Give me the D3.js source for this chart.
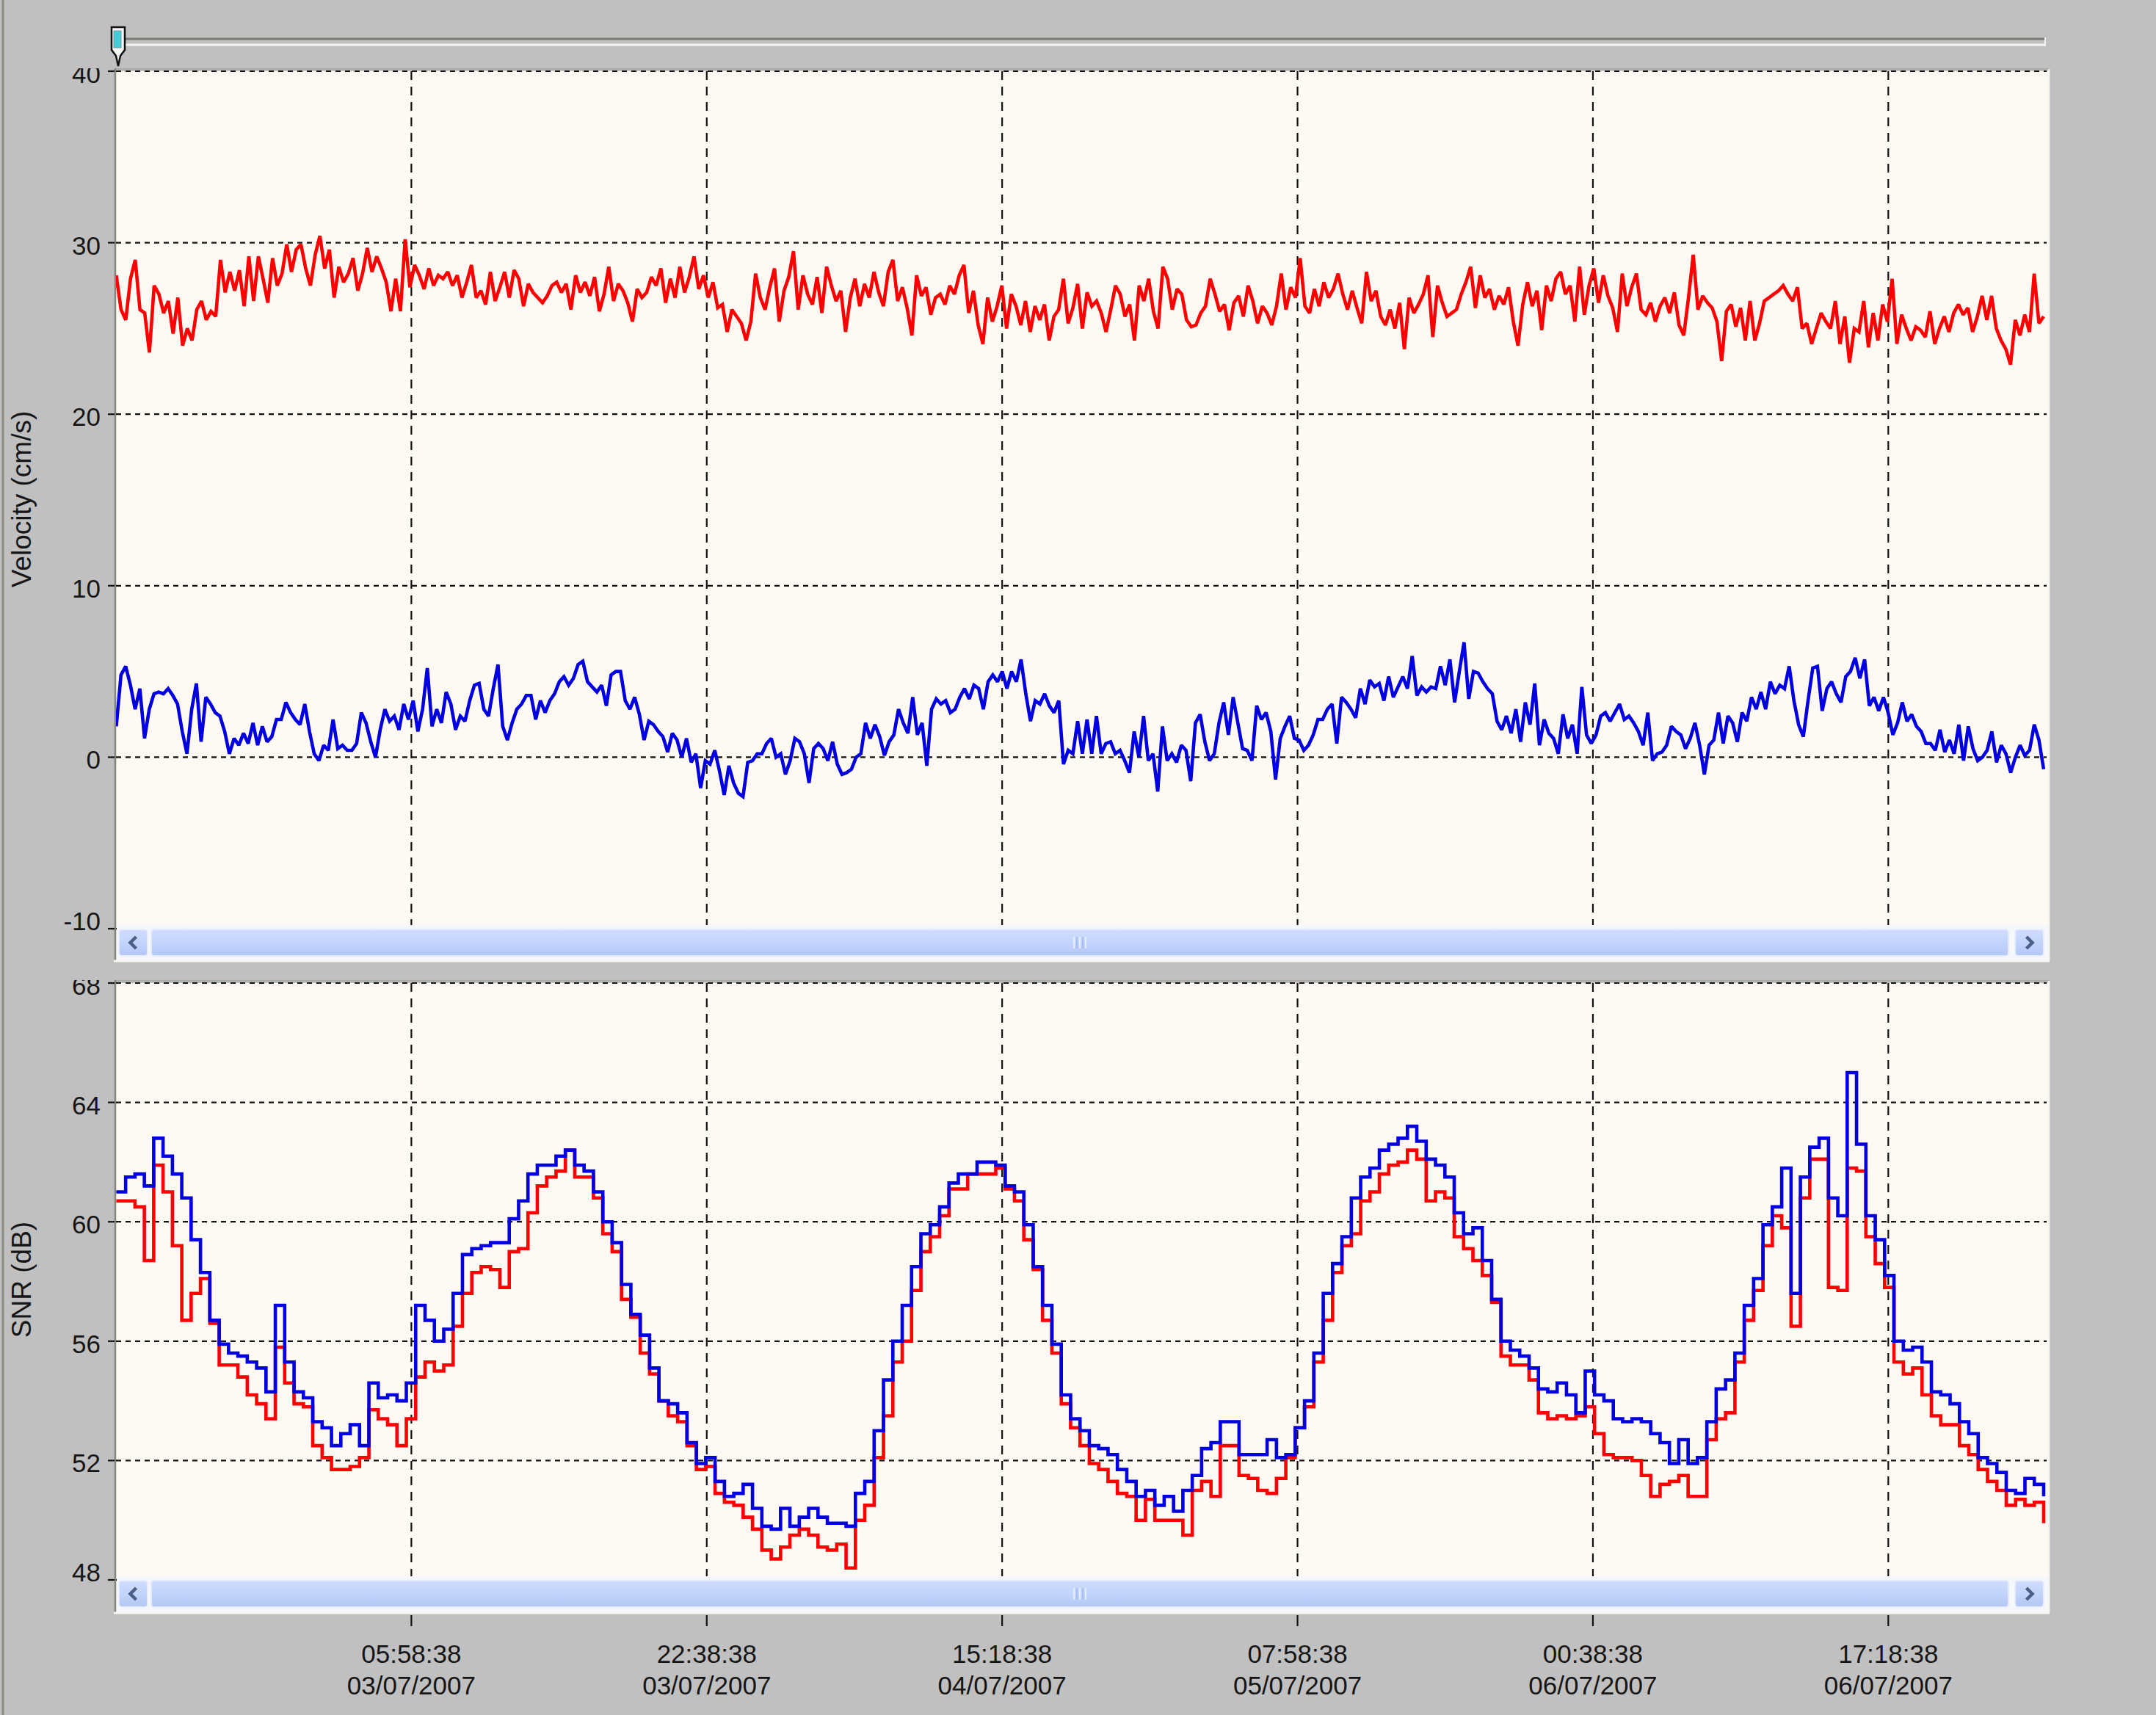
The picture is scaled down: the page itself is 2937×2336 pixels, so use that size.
<!DOCTYPE html>
<html>
<head>
<meta charset="utf-8">
<script src="https://cdn.jsdelivr.net/npm/d3@7"></script>
<style>
  html, body { margin: 0; padding: 0; background: #c0c0c0; overflow: hidden; }
  svg text { font-family: "Liberation Sans", Arial, sans-serif; fill: #161616; }
</style>
</head>
<body>
<svg id="chart" width="2937" height="2336"></svg>
<script>
// ---- time frame of the record ----
const recordStart = "2007-07-02T13:18:38";
const recordEnd   = "2007-07-07T02:14:38";
const seriesStart = "2007-07-02T13:19:38";
const seriesEnd   = "2007-07-07T02:04:38";
const timeTicks = [
  "2007-07-03T05:58:38", "2007-07-03T22:38:38", "2007-07-04T15:18:38",
  "2007-07-05T07:58:38", "2007-07-06T00:38:38", "2007-07-06T17:18:38"
];
const velocityTicks = [40, 30, 20, 10, 0, -10];
const snrTicks = [68, 64, 60, 56, 52, 48];
const velocityTitle = "Velocity (cm/s)";
const snrTitle = "SNR (dB)";

// ---- velocity, beam 1 (red), cm/s ----
const velocityRed = [
28.1,26.1,25.5,27.9,29.0,26.1,25.9,23.6,27.5,27.0,
25.9,26.6,24.7,26.8,24.0,25.0,24.3,26.1,26.6,25.5,
26.0,25.7,29.0,27.1,28.3,27.2,28.4,26.3,29.2,26.6,
29.2,27.9,26.5,29.1,27.5,28.2,29.9,28.3,29.6,29.9,
28.5,27.5,29.3,30.4,28.5,29.6,26.8,28.6,27.7,28.2,
29.1,27.2,28.2,29.7,28.3,29.2,28.5,27.7,26.0,27.9,
26.0,30.2,27.4,28.7,28.1,27.3,28.5,27.5,28.1,27.9,
28.3,27.5,28.1,26.8,27.7,28.7,26.8,27.2,26.4,28.3,
26.6,27.4,28.3,26.8,28.4,27.9,26.3,27.6,27.1,26.8,
26.5,26.9,27.5,27.7,27.1,27.6,26.1,28.1,27.1,27.7,
26.9,28.0,26.0,27.0,28.6,26.6,27.6,27.2,26.5,25.4,
27.3,26.8,27.1,28.0,27.5,28.5,26.5,27.9,26.8,28.6,
27.1,28.0,29.2,27.3,28.1,26.8,27.7,26.2,26.4,24.8,
26.1,25.7,25.3,24.3,25.4,28.2,26.8,26.1,27.4,28.5,
25.4,27.2,28.0,29.5,26.1,28.1,27.0,26.4,28.0,25.9,
28.6,27.5,26.6,27.2,24.8,26.8,27.9,26.3,27.6,26.8,
28.3,27.1,26.3,28.3,29.0,26.6,27.4,26.2,24.6,28.1,
26.9,27.4,25.8,26.8,27.0,26.4,27.5,27.0,28.1,28.7,
25.9,27.2,25.2,24.1,26.8,25.4,26.3,27.5,25.0,27.0,
26.3,25.2,26.6,24.8,26.3,25.5,26.4,24.3,25.7,26.1,
27.9,25.3,26.2,27.6,25.0,
27.1,26.3,26.6,25.9,24.8,26.1,27.5,27.0,25.7,26.4,
24.3,27.5,26.6,27.9,26.0,25.0,28.6,27.9,26.1,27.3,
27.0,25.5,25.1,25.2,25.9,26.3,27.9,27.0,26.0,26.4,
24.9,26.5,26.9,25.7,27.5,26.6,25.3,26.3,25.9,25.2,
26.3,28.2,26.1,27.4,26.8,29.1,26.3,25.9,27.3,26.3,
27.7,26.8,27.3,28.2,27.0,26.1,27.2,26.2,25.3,28.3,
26.6,27.2,25.7,25.2,26.1,25.0,26.5,23.8,26.8,25.9,
26.4,27.0,28.1,24.5,27.5,26.5,25.7,25.9,26.1,27.0,
27.7,28.6,26.2,28.1,26.8,27.3,26.1,26.9,26.4,27.4,
25.4,24.0,26.4,27.7,26.3,27.2,24.9,27.5,26.6,27.9,
28.3,27.0,27.5,25.4,28.6,25.8,27.5,28.5,26.5,28.1,
26.9,26.2,24.8,28.2,26.3,27.4,28.2,26.1,25.8,26.5,
25.4,26.3,26.8,25.9,27.1,25.2,24.6,26.8,29.3,26.1,
26.9,26.5,26.2,25.4,23.1,26.0,26.4,25.1,26.2,24.3,
26.6,24.3,25.3,26.6,26.8,27.0,27.2,27.5,27.0,26.6,
27.4,25.0,25.3,24.1,25.0,25.9,25.4,25.0,26.6,24.1,
25.7,23.0,25.0,24.8,26.6,23.9,25.9,24.3,26.4,25.4,
27.9,24.1,25.8,25.0,24.3,25.1,24.9,24.5,26.0,24.1,
25.0,25.7,24.8,25.9,26.4,25.8,26.2,24.8,25.7,26.9,
25.5,26.9,25.0,24.3,23.8,22.9,25.5,24.6,25.8,24.8,
28.2,25.3,25.7
];

// ---- velocity, beam 2 (blue), cm/s ----
const velocityBlue = [
1.8,4.8,5.3,4.2,2.8,4.0,1.1,2.8,3.7,3.8,
3.7,4.0,3.6,3.1,1.5,0.2,2.8,4.3,0.9,3.5,
3.1,2.6,2.4,1.5,0.2,1.1,0.7,1.4,0.8,2.0,
0.7,1.8,0.9,1.2,2.2,2.2,3.2,2.6,2.2,1.9,
3.1,1.5,0.2,-0.2,0.7,0.4,2.2,0.5,0.7,0.4,
0.4,0.8,2.6,2.0,0.9,0.0,1.6,2.8,2.1,2.4,
1.6,3.1,2.2,3.3,1.5,2.8,5.2,1.8,2.8,2.0,
3.8,3.1,1.6,2.4,2.1,3.3,4.2,4.3,2.8,2.4,
4.0,5.4,1.8,1.0,2.0,2.8,3.1,3.6,3.6,2.2,
3.3,2.6,3.3,3.7,4.4,4.7,4.2,4.6,5.4,5.6,
4.4,4.1,3.8,4.2,3.0,4.8,5.0,5.0,3.3,2.8,
3.5,2.5,1.0,2.1,1.9,1.5,1.2,0.3,1.4,1.0,
0.0,1.1,-0.3,0.2,-1.8,-0.2,-0.4,0.4,-0.8,-2.2,
-0.5,-1.5,-2.1,-2.3,-0.3,-0.2,0.2,0.2,0.8,1.1,
0.0,0.2,-1.0,-0.2,1.1,0.9,0.2,-1.5,0.5,0.8,
0.5,-0.2,0.9,-0.4,-1.0,-0.9,-0.7,0.0,0.2,2.0,
1.1,1.9,1.2,0.1,0.9,1.3,2.8,2.0,1.4,3.5,
1.3,2.0,-0.5,2.8,3.4,3.1,3.3,2.6,2.8,3.5,
4.0,3.4,4.2,4.0,2.8,4.4,4.8,4.4,5.0,4.0,
5.0,4.4,5.7,3.7,2.1,3.3,3.1,3.7,3.0,2.6,
3.3,-0.4,0.4,0.2,2.1,0.2,2.2,
0.2,2.4,0.2,0.8,0.9,0.2,0.4,-0.2,-0.9,1.5,
0.0,2.4,-0.2,0.2,-2.0,1.8,-0.2,0.2,-0.3,0.7,
0.4,-1.4,2.0,2.5,0.9,-0.2,0.2,2.0,3.2,1.3,
3.5,2.0,0.5,0.4,-0.2,3.0,2.2,2.6,1.5,-1.3,
1.1,1.8,2.4,1.1,1.0,0.4,0.7,1.3,2.2,2.2,
2.8,3.1,0.8,3.5,3.2,2.8,2.3,4.0,3.1,4.5,
4.1,4.3,3.3,4.7,3.5,4.1,4.7,4.0,5.9,3.6,
4.1,3.8,4.1,4.0,5.3,4.2,5.7,3.2,5.0,6.7,
3.4,5.0,4.9,4.4,4.0,3.7,2.1,1.6,2.4,1.4,
2.8,0.9,3.2,1.9,4.3,0.7,2.2,1.4,1.1,0.2,
2.5,1.1,1.9,0.2,4.1,1.3,0.8,1.3,2.4,2.6,
2.1,2.6,3.1,2.2,2.4,2.0,1.5,0.7,2.6,-0.2,
0.2,0.3,0.7,1.8,1.5,1.3,0.5,1.1,2.0,0.7,
-1.0,0.7,1.0,2.6,0.8,2.4,2.0,0.9,2.6,2.1,
3.5,2.8,3.8,2.8,4.4,3.7,4.2,4.0,5.3,3.3,
1.9,1.2,3.3,5.2,5.3,2.7,4.0,4.4,3.7,3.2,
4.7,5.0,5.8,4.6,5.7,3.0,3.5,2.7,3.5,2.6,
1.3,2.0,3.2,2.1,2.5,1.8,1.5,0.8,0.8,0.4,
1.6,0.3,1.0,0.2,1.9,-0.2,1.8,0.5,-0.2,0.0,
0.4,1.5,-0.3,0.7,0.2,-0.9,0.0,0.7,0.1,0.4,
1.9,1.0,-0.7
];

// ---- signal to noise ratio, beam 1 (red), dB ----
const snrRed = [
60.7,60.7,60.5,58.7,61.9,61.0,59.2,56.7,57.6,58.1,
56.6,55.2,55.2,54.8,54.2,53.9,53.4,55.8,54.6,53.9,
53.8,52.5,52.1,51.7,51.7,51.8,52.1,53.7,53.4,53.2,
52.5,53.4,54.8,55.3,55.0,55.2,56.5,57.6,58.3,58.5,
58.4,57.8,59.0,59.1,60.3,61.2,61.5,61.7,62.4,61.5,
61.5,60.8,59.6,59.0,57.4,56.8,55.6,54.9,54.0,53.5,
53.3,52.5,51.7,51.8,50.9,50.6,50.5,50.1,49.7,49.0,
48.7,49.1,49.5,49.7,49.5,49.1,49.0,49.2,48.4,50.0,
50.5,52.1,53.5,55.3,56.0,57.7,59.0,59.5,60.2,61.1,
61.1,61.6,61.6,61.6,61.8,61.1,60.7,59.4,58.4,56.7,
55.6,53.9,53.1,52.5,
51.9,51.7,51.3,50.9,50.8,50.0,50.7,50.0,50.0,50.0,
49.5,51.0,51.3,50.8,52.5,52.5,51.5,51.4,51.0,50.9,
51.4,52.1,53.1,53.8,55.3,56.7,58.3,59.2,59.6,60.7,
61.0,61.6,61.9,62.0,62.4,62.1,60.7,61.0,60.8,59.5,
59.1,58.7,58.2,57.3,55.5,55.2,55.2,54.7,53.6,53.4,
53.5,53.4,53.5,53.8,52.9,52.2,52.1,52.1,52.0,51.5,
50.8,51.2,51.3,51.5,50.8,50.8,52.7,53.4,53.6,55.3,
56.7,57.7,59.2,60.2,59.8,56.5,60.8,62.1,62.1,57.8,
57.7,61.8,61.7,59.5,58.6,57.8,55.3,54.9,55.1,54.2,
53.5,53.2,53.2,52.5,52.2,51.7,51.3,51.0,50.5,50.7,
50.5,50.6,49.9
];

// ---- signal to noise ratio, beam 2 (blue), dB ----
const snrBlue = [
61.0,61.5,61.6,61.2,62.8,62.2,61.6,60.8,59.4,58.3,
56.7,55.9,55.6,55.5,55.3,55.1,54.3,57.2,55.3,54.3,
54.1,53.3,53.1,52.5,52.9,53.2,52.5,54.6,54.1,54.2,
54.0,54.6,57.2,56.7,56.0,56.4,57.6,58.9,59.1,59.2,
59.3,59.3,60.1,60.7,61.6,61.9,61.9,62.2,62.4,61.9,
61.7,61.0,60.0,59.3,57.9,56.9,56.2,55.1,54.0,53.9,
53.6,52.6,51.9,52.1,51.3,50.8,50.9,51.2,50.4,49.8,
49.7,50.4,49.8,50.1,50.4,50.1,49.9,49.9,49.8,50.9,
51.3,53.0,54.7,56.0,57.2,58.5,59.6,59.9,60.5,61.3,
61.6,61.6,62.0,62.0,61.9,61.2,61.0,59.9,58.5,57.2,
55.9,54.2,53.4,53.0,
52.5,52.4,52.2,51.7,51.3,50.8,51.0,50.5,50.8,50.3,
51.0,51.5,52.4,52.6,53.3,53.3,52.2,52.2,52.2,52.7,
52.1,52.2,53.1,54.0,55.6,57.6,58.6,59.5,60.8,61.5,
61.8,62.4,62.6,62.8,63.2,62.7,62.1,61.9,61.5,60.3,
59.6,59.8,58.7,57.4,56.0,55.7,55.5,55.1,54.4,54.3,
54.6,54.2,53.6,55.0,54.2,54.0,53.4,53.3,53.4,53.3,
52.9,52.6,51.9,52.7,51.9,52.1,53.3,54.4,54.7,55.6,
57.2,58.1,59.9,60.5,61.8,57.6,61.5,62.5,62.8,60.8,
60.2,65.0,62.6,60.2,59.4,58.2,56.0,55.7,55.8,55.3,
54.3,54.2,53.9,53.3,52.9,52.1,51.9,51.6,51.0,50.9,
51.4,51.2,50.8
];

// ---- layout ----
const W = 2937, H = 2336;
const plotLeft = 158, plotRight = 2788;
const topPanel = { top: 97, bottom: 1265, frameBottom: 1308 };
const botPanel = { top: 1339, bottom: 2152, frameBottom: 2196 };
const RED = "#ff0000", BLUE = "#0000e0";

const parse = d3.timeParse("%Y-%m-%dT%H:%M:%S");
const fmtTime = d3.timeFormat("%H:%M:%S");
const fmtDate = d3.timeFormat("%d/%m/%Y");

const x = d3.scaleTime()
  .domain([parse(recordStart), parse(recordEnd)])
  .range([plotLeft, plotRight]);
const yVel = d3.scaleLinear().domain([-10, 40]).range([topPanel.bottom, topPanel.top]);
const ySnr = d3.scaleLinear().domain([48, 68]).range([botPanel.bottom, botPanel.top]);
const tickDates = timeTicks.map(parse);

// samples are evenly spaced over the deployment
function withTimes(values) {
  const t = d3.scaleLinear().domain([0, values.length - 1])
    .range([+parse(seriesStart), +parse(seriesEnd)]);
  return values.map((v, i) => ({ t: new Date(t(i)), v }));
}

const svg = d3.select("#chart");
const defs = svg.append("defs");

// scrollbar gradient
const gBar = defs.append("linearGradient").attr("id", "barFill")
  .attr("x1", 0).attr("y1", 0).attr("x2", 0).attr("y2", 1);
gBar.append("stop").attr("offset", "0%").attr("stop-color", "#d0dcfd");
gBar.append("stop").attr("offset", "50%").attr("stop-color", "#c3d4fc");
gBar.append("stop").attr("offset", "100%").attr("stop-color", "#b3c7f4");

// window frame
svg.append("rect").attr("width", W).attr("height", H).attr("fill", "#c0c0c0");
svg.append("line").attr("x1", 4).attr("x2", 4).attr("y1", 0).attr("y2", H)
  .attr("stroke", "#8c8c82").attr("stroke-width", 3);

// time slider above the panels
const slider = svg.append("g");
slider.append("line").attr("x1", plotLeft + 10).attr("x2", 2786).attr("y1", 53).attr("y2", 53)
  .attr("stroke", "#7b7b73").attr("stroke-width", 3);
slider.append("line").attr("x1", plotLeft + 10).attr("x2", 2786).attr("y1", 61).attr("y2", 61)
  .attr("stroke", "#f4f4f4").attr("stroke-width", 3);
slider.append("line").attr("x1", 2786).attr("x2", 2786).attr("y1", 51).attr("y2", 63)
  .attr("stroke", "#f4f4f4").attr("stroke-width", 2);
slider.append("path")
  .attr("d", "M152,37 L170,37 L170,68 L164,76 L161,90 L158,76 L152,68 Z")
  .attr("fill", "#f7f7f7").attr("stroke", "#111").attr("stroke-width", 2.5);
slider.append("rect").attr("x", 155).attr("y", 42).attr("width", 10).attr("height", 23)
  .attr("fill", "#48ccd6").attr("stroke", "#7a9aa0").attr("stroke-width", 1);

function drawPanel(panel, y, ticks, title, titleY, series, curve) {
  const g = svg.append("g");
  // plot background and frame
  g.append("rect").attr("x", plotLeft).attr("y", panel.top)
    .attr("width", plotRight - plotLeft + 3).attr("height", panel.frameBottom - panel.top)
    .attr("fill", "#fff9f4");
  g.append("line").attr("x1", plotLeft - 2).attr("x2", plotRight + 4)
    .attr("y1", panel.top - 3).attr("y2", panel.top - 3)
    .attr("stroke", "#ababa3").attr("stroke-width", 2);
  g.append("line").attr("x1", plotLeft - 1).attr("x2", plotLeft - 1)
    .attr("y1", panel.top - 4).attr("y2", panel.frameBottom)
    .attr("stroke", "#84847b").attr("stroke-width", 2.5);
  g.append("line").attr("x1", plotRight + 3).attr("x2", plotRight + 3)
    .attr("y1", panel.top - 3).attr("y2", panel.frameBottom)
    .attr("stroke", "#f7f7f2").attr("stroke-width", 2.5);
  g.append("line").attr("x1", plotLeft - 3).attr("x2", plotRight + 4)
    .attr("y1", panel.frameBottom + 1).attr("y2", panel.frameBottom + 1)
    .attr("stroke", "#f5f5f0").attr("stroke-width", 3);

  // grid
  g.append("g").selectAll("line").data(ticks).join("line")
    .attr("x1", plotLeft).attr("x2", plotRight)
    .attr("y1", d => y(d)).attr("y2", d => y(d))
    .attr("stroke", "#111").attr("stroke-width", 2.2).attr("stroke-dasharray", "7,6");
  g.append("g").selectAll("line").data(tickDates).join("line")
    .attr("x1", d => x(d)).attr("x2", d => x(d))
    .attr("y1", panel.top).attr("y2", panel.bottom)
    .attr("stroke", "#111").attr("stroke-width", 2.2).attr("stroke-dasharray", "12,9");

  // data
  const clipId = "clip" + panel.top;
  defs.append("clipPath").attr("id", clipId).append("rect")
    .attr("x", plotLeft).attr("y", panel.top)
    .attr("width", plotRight - plotLeft).attr("height", panel.bottom - panel.top);
  const line = d3.line().x(d => x(d.t)).y(d => y(d.v)).curve(curve);
  const lines = g.append("g").attr("clip-path", `url(#${clipId})`);
  series.forEach(s => {
    lines.append("path").datum(withTimes(s.values))
      .attr("d", line).attr("fill", "none")
      .attr("stroke", s.color).attr("stroke-width", 4.6)
      .attr("stroke-linejoin", "miter").attr("stroke-miterlimit", 2);
  });

  // tick marks and labels on the y axis
  const labelClip = "lab" + panel.top;
  defs.append("clipPath").attr("id", labelClip).append("rect")
    .attr("x", 0).attr("y", panel.top - 4).attr("width", plotLeft).attr("height", panel.frameBottom);
  const ax = g.append("g").attr("clip-path", `url(#${labelClip})`);
  ax.selectAll("line").data(ticks).join("line")
    .attr("x1", 147).attr("x2", plotLeft - 2)
    .attr("y1", d => y(d)).attr("y2", d => y(d))
    .attr("stroke", "#111").attr("stroke-width", 2.2);
  const lowest = d3.min(ticks);
  ax.selectAll("text").data(ticks).join("text")
    .attr("x", 137)
    .attr("y", d => y(d) + (d === lowest ? 2 : 16))
    .attr("text-anchor", "end")
    .attr("font-size", 35)
    .text(d => d);

  // axis title
  g.append("text")
    .attr("transform", `translate(42,${titleY}) rotate(-90)`)
    .attr("text-anchor", "middle")
    .attr("font-size", 37)
    .text(title);

  drawScrollbar(panel.bottom);
}

function drawScrollbar(yTop) {
  const g = svg.append("g");
  const h = 36, by = yTop + 1;
  g.append("rect").attr("x", plotLeft + 1).attr("y", yTop - 5)
    .attr("width", plotRight - plotLeft + 1).attr("height", h + 12).attr("fill", "#f6f7fa");
  // arrow buttons
  [[plotLeft + 4, "left"], [plotRight - 43, "right"]].forEach(([bx, dir]) => {
    g.append("rect").attr("x", bx).attr("y", by).attr("width", 39).attr("height", h)
      .attr("rx", 4).attr("fill", "url(#barFill)").attr("stroke", "#e8eefd").attr("stroke-width", 2);
    const cx = bx + 19.5, cy = by + h / 2;
    const d = dir === "left"
      ? `M${cx + 4},${cy - 8} L${cx - 4},${cy} L${cx + 4},${cy + 8}`
      : `M${cx - 4},${cy - 8} L${cx + 4},${cy} L${cx - 4},${cy + 8}`;
    g.append("path").attr("d", d).attr("fill", "none")
      .attr("stroke", "#4b5f88").attr("stroke-width", 4.5);
  });
  // thumb with grip
  const tx0 = plotLeft + 48, tx1 = plotRight - 52;
  g.append("rect").attr("x", tx0).attr("y", by).attr("width", tx1 - tx0).attr("height", h)
    .attr("rx", 4).attr("fill", "url(#barFill)").attr("stroke", "#e4ebfc").attr("stroke-width", 2);
  const mid = (tx0 + tx1) / 2;
  for (let i = 0; i < 5; i++) {
    g.append("line").attr("x1", mid - 8 + i * 4).attr("x2", mid - 8 + i * 4)
      .attr("y1", by + 10).attr("y2", by + h - 10)
      .attr("stroke", i % 2 ? "#a6b8e4" : "#eef3ff").attr("stroke-width", 1.6);
  }
}

drawPanel(topPanel, yVel, velocityTicks, velocityTitle, 680, [
  { values: velocityRed, color: RED },
  { values: velocityBlue, color: BLUE }
], d3.curveLinear);
drawPanel(botPanel, ySnr, snrTicks, snrTitle, 1743, [
  { values: snrRed, color: RED },
  { values: snrBlue, color: BLUE }
], d3.curveStepAfter);

// time axis below the lower panel
const xa = svg.append("g");
xa.selectAll("line").data(tickDates).join("line")
  .attr("x1", d => x(d)).attr("x2", d => x(d))
  .attr("y1", botPanel.frameBottom + 4).attr("y2", botPanel.frameBottom + 19)
  .attr("stroke", "#111").attr("stroke-width", 2.2);
xa.selectAll("text.t").data(tickDates).join("text").attr("class", "t")
  .attr("x", d => x(d)).attr("y", 2265).attr("text-anchor", "middle")
  .attr("font-size", 35).text(d => fmtTime(d));
xa.selectAll("text.d").data(tickDates).join("text").attr("class", "d")
  .attr("x", d => x(d)).attr("y", 2308).attr("text-anchor", "middle")
  .attr("font-size", 35).text(d => fmtDate(d));
</script>
</body>
</html>
